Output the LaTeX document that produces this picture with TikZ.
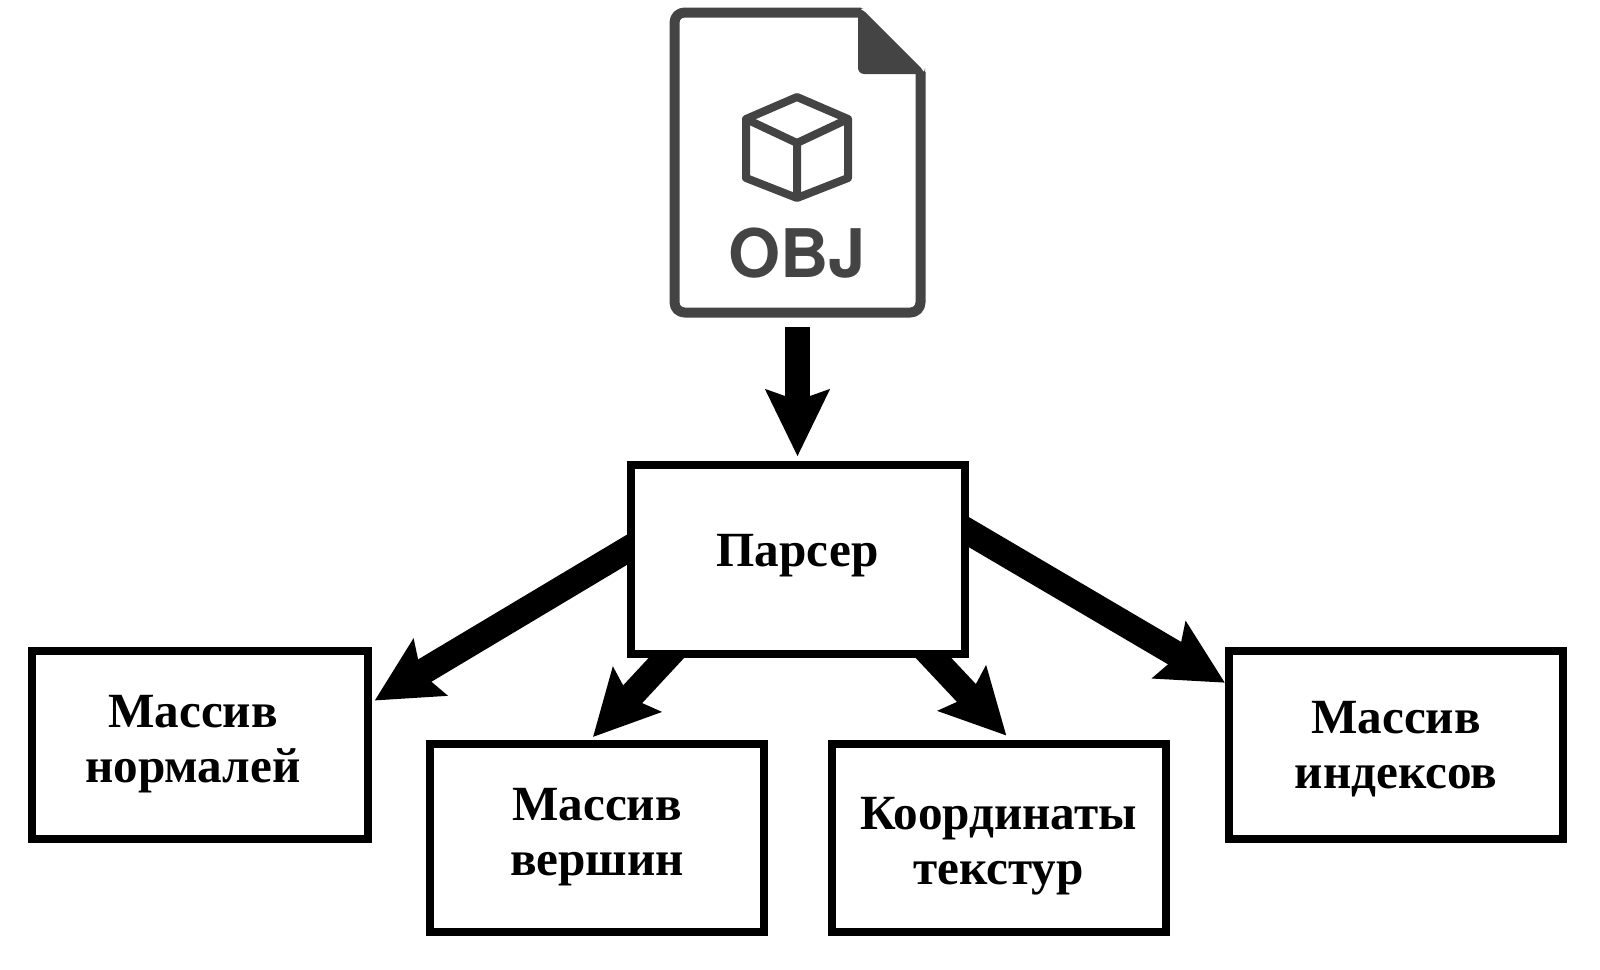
\documentclass[tikz,border=0pt]{standalone}
\usepackage{fontspec}
\setmainfont{Liberation Serif}
\newfontfamily\objfont{TeX Gyre Heros}
\usetikzlibrary{arrows.meta,backgrounds}
\definecolor{icon}{HTML}{444444}
\tikzset{
  box/.style={draw=black,line width=4pt,fill=white,minimum width=167pt,minimum height=94pt,inner sep=0pt},
  lab/.style={align=center,font=\fontsize{24.6}{27.5}\selectfont\bfseries,inner sep=0pt},
  fat/.style={line width=13pt,-{Stealth[length=32pt,width=32pt,inset=5pt]},black},
  iconline/.style={draw=icon,line join=round},
}
\begin{document}
\begin{tikzpicture}[x=.5pt,y=-.5pt]
\useasboundingbox (0,0) rectangle (1600,969);
% boxes
\node[box,minimum height=94.5pt,label={[lab,yshift=1.5pt]center:Парсер}] (parser) at (797.5,559) {};
\node[box,minimum width=168pt,label={[lab,xshift=-3.5pt,yshift=.5pt]center:Массив\\нормалей}] (normals) at (200,745) {};
\node[box,label={[lab,yshift=.5pt]center:Массив\\вершин}] (vertices) at (597,838) {};
\node[box,label={[lab,yshift=-4pt]center:Координаты\\текстур}] (textures) at (998.5,838) {};
\node[box,label={[lab,yshift=-2pt]center:Массив\\индексов}] (indexes) at (1396,745) {};
% file icon
\node[minimum width=127.5pt,minimum height=154.5pt,inner sep=0pt] (file) at (797.5,162.5) {};
\node[font=\objfont\fontsize{33.5}{33.5}\selectfont\bfseries,text=icon,inner sep=0pt,anchor=center] (obj) at (797,253) {OBJ};
\draw[iconline,line width=5pt,rounded corners=5pt] (861,12.5) -- (674.5,12.5) -- (674.5,312.5) -- (920.5,312.5) -- (920.5,72);
\fill[icon,rounded corners=3pt] (858,8) -- (858,74) -- (925,74) -- (925,72) -- (861,8) -- cycle;
\draw[iconline,line width=4pt] (797,97) -- (848,119) -- (848,178) -- (797,198) -- (746,178) -- (746,119) -- cycle;
\draw[iconline,line width=4pt] (746,119) -- (797,143) -- (848,119) (797,143) -- (797,198);
% arrows
\begin{scope}[on background layer]
\draw[fat,line width=12.5pt,-{Stealth[length=33pt,width=31pt,inset=5pt]},shorten <=5pt,shorten >=2pt] (file.south) -- (parser.north);
\draw[fat,shorten <=-8pt,shorten >=1.5pt] (parser.177.2) -- (normals.14.7);
\draw[fat,shorten <=-8pt,shorten >=2pt] (parser.217.3) -- (vertices.94.1);
\draw[fat,shorten <=-8pt,shorten >=3pt] (parser.-36.8) -- (textures.83.3);
\draw[fat,shorten <=-8pt] (parser.9.3) -- (indexes.160.8);
\end{scope}
\end{tikzpicture}
\end{document}
